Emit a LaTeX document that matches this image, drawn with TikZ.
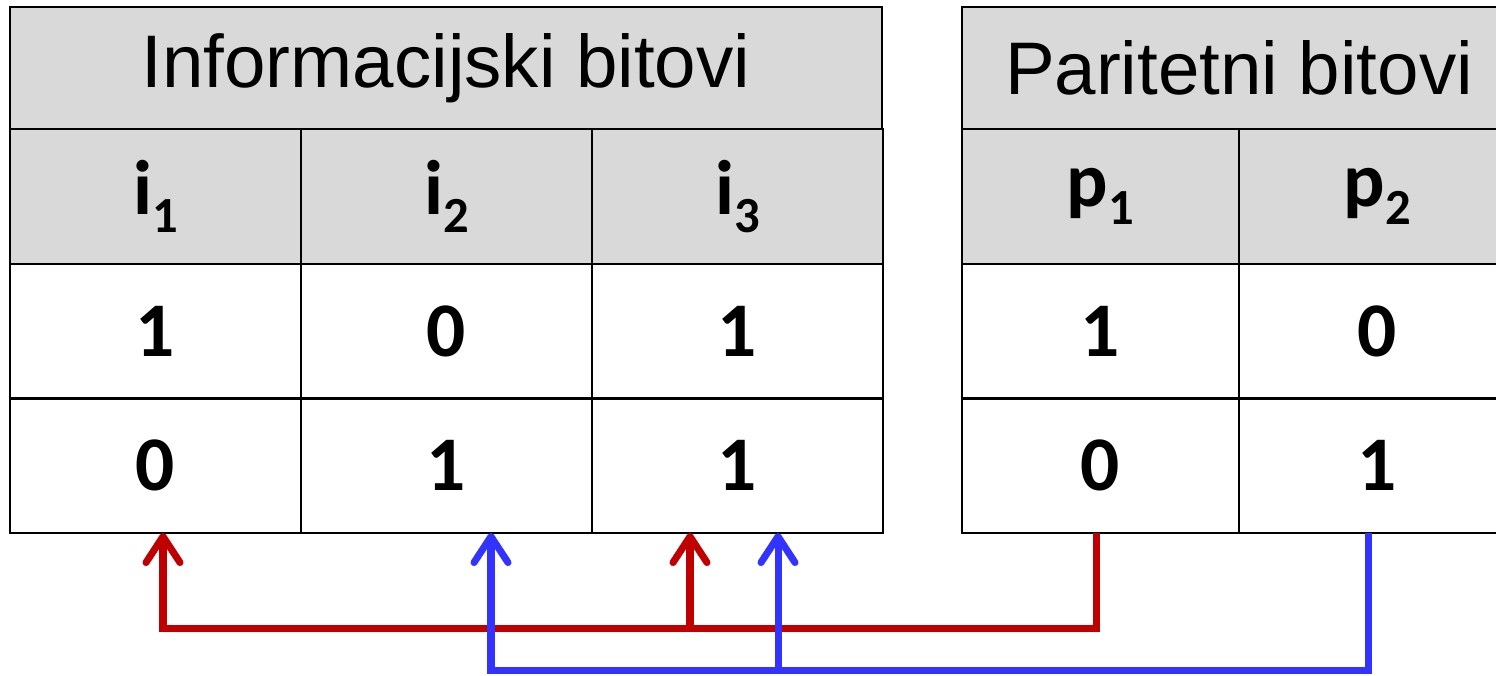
\documentclass[tikz,border=0pt]{standalone}
\usepackage{fontspec}
\setmainfont{Liberation Sans}
\newfontfamily\calibri{Carlito}
\usetikzlibrary{arrows.meta}
\definecolor{hdrgray}{HTML}{D9D9D9}
\definecolor{parred}{HTML}{C00000}
\definecolor{parblue}{HTML}{3333FF}
\newcommand{\bitname}[2]{#1\raisebox{-5pt}{\fontsize{14.4}{17}\selectfont #2}}

\begin{document}
\begin{tikzpicture}[
    cell/.style={draw, line width=0.8pt, anchor=north west, inner sep=0pt, outer sep=0pt},
    title/.style={cell, fill=hdrgray, minimum height=1.22cm, font=\fontsize{21.2}{25}\selectfont},
    bithead/.style={cell, fill=hdrgray, minimum height=1.35cm, font=\calibri\bfseries\fontsize{22}{26}\selectfont},
    bitval/.style={cell, minimum height=1.345cm, font=\calibri\bfseries\fontsize{22}{26}\selectfont},
    wide/.style={minimum width=2.91cm},
    narrow/.style={minimum width=2.77cm},
    link/.style={line width=2pt, -{Straight Barb[length=2.6mm, width=3.4mm, round]}},
  ]
      \useasboundingbox (0, 0) rectangle (14.96, -6.75);
      \clip (0, 0) rectangle (14.96, -6.75);

      % information bits
      \node[title, minimum width=8.72cm] (infohdr) at (0.10, -0.07) {Informacijski bitovi};
      \node[bithead, wide] (i1h) at (0.10, -1.29) {\bitname{i}{1}};
      \node[bithead, wide] (i2h) at (3.01, -1.29) {\bitname{i}{2}};
      \node[bithead, wide] (i3h) at (5.92, -1.29) {\bitname{i}{3}};
      \node[bitval, wide] (i1a) at (0.10, -2.64) {1};
      \node[bitval, wide] (i2a) at (3.01, -2.64) {0};
      \node[bitval, wide] (i3a) at (5.92, -2.64) {1};
      \node[bitval, wide] (i1b) at (0.10, -3.985) {0};
      \node[bitval, wide] (i2b) at (3.01, -3.985) {1};
      \node[bitval, wide] (i3b) at (5.92, -3.985) {1};

      % parity bits
      \node[title, minimum width=5.54cm] (parhdr) at (9.62, -0.07) {Paritetni bitovi};
      \node[bithead, narrow] (p1h) at (9.62, -1.29) {\bitname{p}{1}};
      \node[bithead, narrow] (p2h) at (12.39, -1.29) {\bitname{p}{2}};
      \node[bitval, narrow] (p1a) at (9.62, -2.64) {1};
      \node[bitval, narrow] (p2a) at (12.39, -2.64) {0};
      \node[bitval, narrow] (p1b) at (9.62, -3.985) {0};
      \node[bitval, narrow] (p2b) at (12.39, -3.985) {1};

      % where the links end and run
      \coordinate (redrail) at (0, -6.28);
      \coordinate (bluerail) at (0, -6.70);
      \coordinate (redsrc) at (10.96, -5.33);
      \coordinate (bluesrc) at (13.68, -5.33);
      \coordinate (to-i1) at (1.63, -5.33);
      \coordinate (to-i3) at (6.90, -5.33);
      \coordinate (to-i2) at (4.91, -5.33);
      \coordinate (to-i3b) at (7.78, -5.33);

      % p1 = i1 + i3
      \draw[link, parred] (redsrc) |- (to-i1 |- redrail) -- (to-i1);
      \draw[link, parred] (to-i3 |- redrail) -- (to-i3);
      % p2 = i2 + i3
      \draw[link, parblue] (bluesrc) |- (to-i2 |- bluerail) -- (to-i2);
      \draw[link, parblue] (to-i3b |- bluerail) -- (to-i3b);
\end{tikzpicture}
\end{document}
